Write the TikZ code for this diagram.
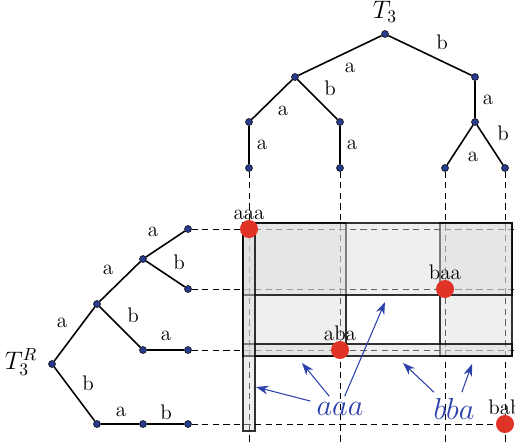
\documentclass[tikz,border=0pt]{standalone}
\usepackage{amsmath,amssymb}
\usepackage{tikz}
\usetikzlibrary{arrows.meta}

\definecolor{nodeblue}{RGB}{40,60,140}
\definecolor{hitred}{RGB}{225,50,40}
\definecolor{arrblue}{RGB}{45,65,170}

\tikzset{
  vx/.style={circle,fill=nodeblue,draw=black,line width=0.3pt,inner sep=0pt,minimum size=1.4mm},
  hit/.style={circle,fill=hitred,inner sep=0pt,minimum size=3.6mm},
  band/.style={draw=black,draw opacity=0.8,fill=gray!28,fill opacity=0.45,line width=0.6pt},
  guide/.style={dash pattern=on 3.5pt off 2.5pt,line width=0.5pt},
  br/.style={line width=0.9pt}
}

\begin{document}
\begin{tikzpicture}[x=0.2mm,y=-0.2mm,>={Stealth[length=7pt,width=5pt]},font=\large]
\useasboundingbox (0,0) rectangle (515,443);

% top tree T_3
\node[vx] (t) at (385,34) {};
\node[vx] (ta) at (295,77) {};  \node[vx] (tb) at (475,77) {};
\node[vx] (taa) at (249,122) {}; \node[vx] (tab) at (340,122) {};
\node[vx] (tba) at (475,122) {};
\node[vx] (taaa) at (249,168) {}; \node[vx] (taba) at (340,168) {};
\node[vx] (tbaa) at (445,168) {}; \node[vx] (tbab) at (505,168) {};

\draw[br] (t) -- (ta) (t) -- (tb);
\draw[br] (ta) -- (taa) (ta) -- (tab) (tb) -- (tba);
\draw[br] (taa) -- (taaa) (tab) -- (taba) (tba) -- (tbaa) (tba) -- (tbab);

\draw (385,12) node[font=\Large] {$T_3$};
\draw (350,68) node {a}  (442,42) node {b};
\draw (283,111) node {a}  (330,88) node {b}  (488,100) node {a};
\draw (262,145) node {a}  (352,145) node {a}  (473,157) node {a}  (503,133) node {b};

% left tree T_3^R
\node[vx] (r) at (52,364) {};
\node[vx] (ra) at (97,304) {};  \node[vx] (rb) at (97,424) {};
\node[vx] (raa) at (143,259) {}; \node[vx] (rab) at (143,350) {};
\node[vx] (rba) at (143,424) {};
\node[vx] (raaa) at (188,229) {}; \node[vx] (raab) at (188,289) {};
\node[vx] (raba) at (188,350) {}; \node[vx] (rbab) at (188,424) {};

\draw[br] (r) -- (ra) (r) -- (rb);
\draw[br] (ra) -- (raa) (ra) -- (rab) (rb) -- (rba);
\draw[br] (raa) -- (raaa) (raa) -- (raab) (rab) -- (raba) (rba) -- (rbab);

\draw (21,362) node[font=\Large,inner sep=1pt] {$T_3^R$};
\draw (62,323) node {a}  (88,383) node {b};
\draw (108,270) node {a}  (133,315) node {b};
\draw (153,232) node {a}  (179,262) node {b}  (166,336) node {a};
\draw (121,412) node {a}  (166,412) node {b};

% dashed guides
\coordinate (eaaa) at (249,443); \coordinate (eaba) at (340,443);
\coordinate (ebaa) at (445,443); \coordinate (ebab) at (505,443);
\coordinate (faaa) at (515,229); \coordinate (faab) at (515,289);
\coordinate (faba) at (515,350); \coordinate (fbab) at (515,424);
\draw[guide] (taaa) -- (eaaa) (taba) -- (eaba) (tbaa) -- (ebaa) (tbab) -- (ebab);
\draw[guide] (raaa) -- (faaa) (raab) -- (faab) (raba) -- (faba) (rbab) -- (fbab);

% grey boxes
\draw[band] (243,223) rectangle (346,356);
\draw[band] (440,223) rectangle (512,356);
\draw[band] (243,223) rectangle (512,295);
\draw[band] (243,344) rectangle (512,356);
\draw[band] (243,223) rectangle (255,431);

% red points
\node[hit,label={[inner sep=0pt,label distance=0pt]above:aaa}] (paaa) at (249,229) {};
\node[hit,label={[inner sep=0pt,label distance=0pt]above:baa}] (pbaa) at (445,289) {};
\node[hit,label={[inner sep=0pt,label distance=0pt]above:aba}] (paba) at (340,350) {};
\node[hit,label={[inner sep=0pt,label distance=0pt]above:bab}] (pbab) at (505,424) {};

% blue arrows
\node[text=arrblue,font=\LARGE] (waaa) at (340,409) {$aaa$};
\node[text=arrblue,font=\LARGE] (wbba) at (454,409) {$bba$};
\coordinate (k1) at (256,387); \coordinate (k2) at (302,363);
\coordinate (k3) at (385,302); \coordinate (k4) at (403,363);
\coordinate (k5) at (472,364);
\draw[->,arrblue,line width=0.6pt] (waaa.165) -- (k1);
\draw[->,arrblue,line width=0.6pt] (waaa.130) -- (k2);
\draw[->,arrblue,line width=0.6pt] (waaa.70) -- (k3);
\draw[->,arrblue,line width=0.6pt] (wbba.140) -- (k4);
\draw[->,arrblue,line width=0.6pt] (wbba.65) -- (k5);
\end{tikzpicture}
\end{document}
